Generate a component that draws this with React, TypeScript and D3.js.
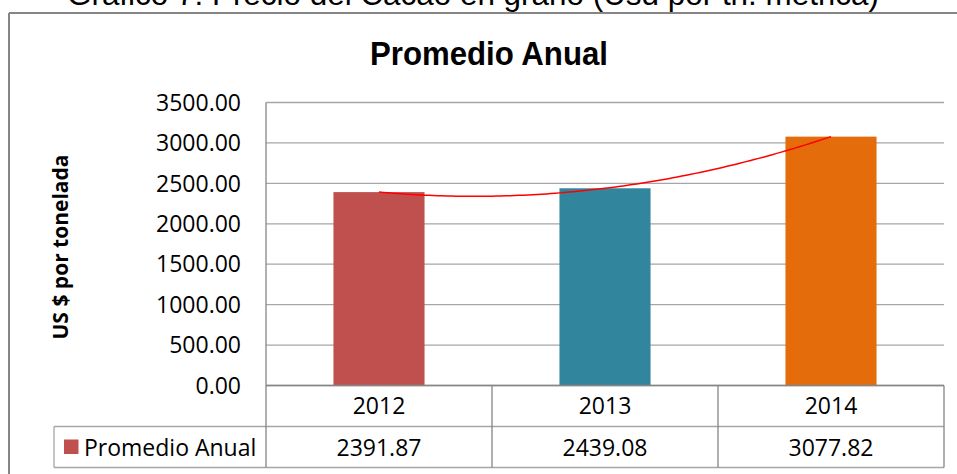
import React from 'react';
import * as d3 from 'd3';

const years = ['2012', '2013', '2014'];
const values = [2391.87, 2439.08, 3077.82];
const barColors = ['#C0504D', '#31859C', '#E46C0A'];
const yTicks = [0, 500, 1000, 1500, 2000, 2500, 3000, 3500];
const seriesName = 'Promedio Anual';
const chartTitle = 'Promedio Anual';
const pageTitle = 'Grafico 7: Precio del Cacao en grano (Usd por tn. métrica)';
const yTitle = 'US $ por tonelada';

// polynomial (order 2) trendline like Excel: exact fit through the 3 points
function quadFit(ys: number[]) {
  const [y0, y1, y2] = ys;
  const a = (y2 - 2 * y1 + y0) / 2;
  const b = y1 - y0 - a;
  return (t: number) => a * t * t + b * t + y0;
}

export default function App() {
  const W = 957, H = 474;
  const left = 266, right = 944, top = 102.5, bottom = 385.5;
  const row1 = 426.5, row2 = 467.5, legendLeft = 54;

  const x = d3.scaleBand<string>().domain(years).range([left, right]).padding(0);
  const y = d3.scaleLinear().domain([0, 3500]).range([bottom, top]);
  const fmt = d3.format('.2f');
  const bw = x.bandwidth();
  const barW = bw * 0.403;

  const f = quadFit(values);
  const idx = d3.scaleLinear().domain([0, years.length - 1])
    .range([x(years[0])! + bw / 2, x(years[years.length - 1])! + bw / 2]);
  const trendPts = d3.range(0, 2.0001, 0.02).map(t => [idx(t), y(f(t))] as [number, number]);
  const trend = d3.line().curve(d3.curveLinear)(trendPts) || '';

  const cellFont = "'Open Sans', sans-serif";
  const colEdges = [left, ...years.map(yr => x(yr)! + bw)];

  return (
    <svg width={W} height={H} style={{ position: 'absolute', left: 0, top: 0, background: '#fff' }}>
      <rect x={0} y={0} width={W} height={H} fill="#fff" />
      <text x={473} y={5} textAnchor="middle" fontFamily="'Liberation Sans', Arial, sans-serif"
        fontSize={31} textLength={812} lengthAdjust="spacingAndGlyphs" fill="#000">{pageTitle}</text>

      {/* chart frame */}
      <line x1={9} y1={13} x2={W} y2={13} stroke="#868686" strokeWidth={2} />
      <line x1={9} y1={13} x2={9} y2={H} stroke="#868686" strokeWidth={2} />

      <text x={489} y={65} textAnchor="middle" fontFamily="'Liberation Sans', Arial, sans-serif"
        fontWeight="bold" fontSize={33} textLength={238} lengthAdjust="spacingAndGlyphs" fill="#000">{chartTitle}</text>

      {/* gridlines */}
      {yTicks.map(t => (
        <line key={t} x1={left} x2={right} y1={y(t)} y2={y(t)} stroke="#a6a6a6" strokeWidth={1.3} />
      ))}
      {yTicks.map(t => (
        <text key={'l' + t} x={241} y={y(t)} dy="0.36em" textAnchor="end" fontFamily={cellFont}
          fontSize={23} fill="#000">{fmt(t)}</text>
      ))}

      <text transform={`translate(68,${247}) rotate(-90)`} textAnchor="middle" fontFamily={cellFont}
        fontWeight="bold" fontSize={21} fill="#000">{yTitle}</text>

      {/* bars */}
      {years.map((yr, i) => (
        <rect key={yr} x={x(yr)! + (bw - barW) / 2} y={y(values[i])} width={barW}
          height={bottom - y(values[i])} fill={barColors[i]} />
      ))}

      {/* trendline */}
      <path d={trend} fill="none" stroke="#FF0000" strokeWidth={1.5} />

      {/* data table */}
      <line x1={left} x2={right} y1={bottom} y2={bottom} stroke="#868686" strokeWidth={1.3} />
      <line x1={legendLeft} x2={right} y1={row1} y2={row1} stroke="#a6a6a6" strokeWidth={1.3} />
      <line x1={legendLeft} x2={right} y1={row2} y2={row2} stroke="#a6a6a6" strokeWidth={1.3} />
      <line x1={legendLeft} x2={legendLeft} y1={row1} y2={row2} stroke="#a6a6a6" strokeWidth={1.3} />
      <line x1={left} x2={left} y1={top} y2={row2} stroke="#868686" strokeWidth={1.3} />
      {colEdges.slice(1).map((cx, i) => (
        <line key={'c' + i} x1={cx} x2={cx} y1={bottom} y2={row2} stroke="#868686" strokeWidth={1.3} />
      ))}
      {years.map((yr, i) => (
        <g key={'t' + yr}>
          <text x={x(yr)! + bw / 2} y={(bottom + row1) / 2} dy="0.36em" textAnchor="middle"
            fontFamily={cellFont} fontSize={23} fill="#000">{yr}</text>
          <text x={x(yr)! + bw / 2} y={(row1 + row2) / 2 + 1} dy="0.36em" textAnchor="middle"
            fontFamily={cellFont} fontSize={23} fill="#000">{fmt(values[i])}</text>
        </g>
      ))}
      <rect x={64} y={439.5} width={14.5} height={14.5} fill={barColors[0]} />
      <text x={84} y={(row1 + row2) / 2 + 1} dy="0.36em" fontFamily={cellFont} fontSize={23} fill="#000">{seriesName}</text>
    </svg>
  );
}
